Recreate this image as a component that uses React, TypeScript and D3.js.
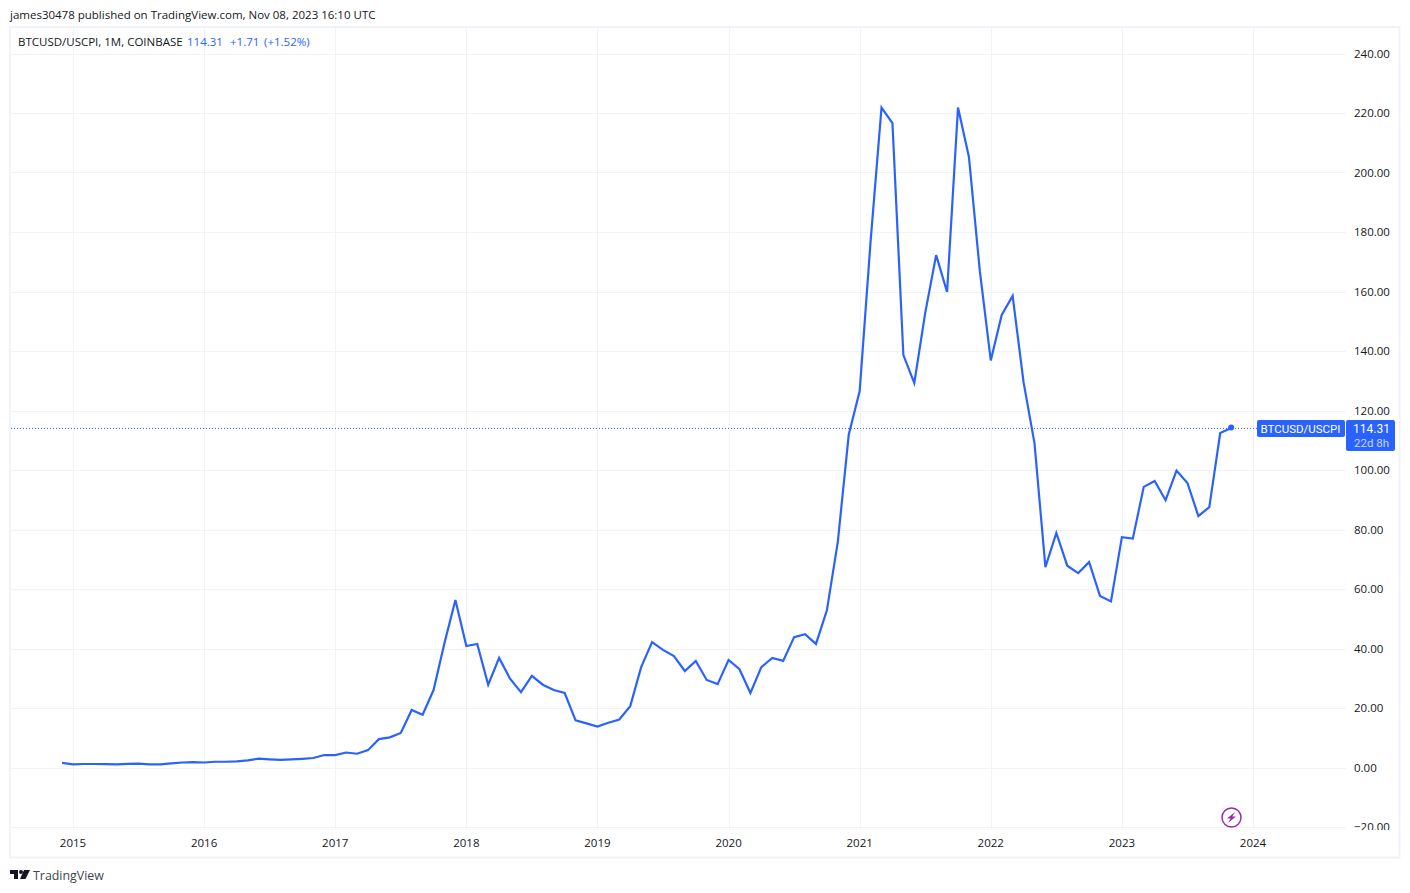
import React, { useEffect, useRef } from "react";
import * as d3 from "d3";

// monthly closes, Dec 2014 .. Nov 2023
const startYear = 2014;
const startMonth = 11;
const closes = [
  1.7,
  1.23, 1.35, 1.35, 1.3, 1.25, 1.4, 1.45, 1.25, 1.25, 1.55, 1.85, 2.0,
  1.85, 2.1, 2.1, 2.2, 2.55, 3.15, 2.9, 2.7, 2.9, 3.1, 3.35, 4.35,
  4.35, 5.2, 4.8, 6.0, 9.7, 10.3, 11.8, 19.5, 17.9, 26.2, 42, 56.5,
  41, 41.7, 28, 37, 30, 25.5, 31, 28, 26.2, 25.2, 16, 15,
  13.9, 15.2, 16.3, 20.8, 33.9, 42.3, 39.7, 37.6, 32.6, 36, 29.6, 28.2,
  36.3, 33.2, 25.2, 33.9, 37, 36, 44, 45, 41.7, 53, 76, 112,
  126.7, 177, 222, 216.8, 138.8, 129.4, 153, 172.4, 160, 222, 205.4, 167,
  137, 152.3, 158.7, 129.7, 109.2, 67.5, 79, 68, 65.5, 69.2, 57.8, 56,
  77.6, 77.1, 94.5, 96.5, 90, 100, 95.8, 84.7, 87.7, 112.6, 114.31,
];
const years = [2015, 2016, 2017, 2018, 2019, 2020, 2021, 2022, 2023, 2024];
const priceTicks = [-20, 0, 20, 40, 60, 80, 100, 120, 140, 160, 180, 200, 220, 240];
const lastPrice = 114.31;

const font = "'Open Sans', 'Noto Sans', sans-serif";
const pillFont = "Roboto, sans-serif";
const blue = "#2962ff";
const grid = "#f0f3fa";
const textColor = "#131722";

const App: React.FC = () => {
  const ref = useRef<SVGSVGElement>(null);

  useEffect(() => {
    if (!ref.current) return;
    const svg = d3.select(ref.current);
    svg.selectAll("*").remove();

    const monthIndex = (year: number, month: number) =>
      (year - startYear) * 12 + (month - startMonth);

    const x = d3
      .scaleLinear()
      .domain([monthIndex(2015, 0), monthIndex(2024, 0)])
      .range([73, 1253]);
    const y = d3.scaleLinear().domain([0, 240]).range([768, 54]);

    svg.append("rect").attr("width", 1410).attr("height", 893).attr("fill", "#fff");

    // outer frame
    svg
      .append("rect")
      .attr("x", 10)
      .attr("y", 27)
      .attr("width", 1389.5)
      .attr("height", 830.5)
      .attr("fill", "none")
      .attr("stroke", grid)
      .attr("stroke-width", 2);

    svg
      .append("defs")
      .append("clipPath")
      .attr("id", "pane")
      .append("rect")
      .attr("x", 11)
      .attr("y", 28)
      .attr("width", 1387)
      .attr("height", 802);

    const gridG = svg.append("g").attr("stroke", grid).attr("stroke-width", 1);
    gridG
      .selectAll("line.h")
      .data(priceTicks)
      .join("line")
      .attr("class", "h")
      .attr("x1", 11)
      .attr("x2", 1346)
      .attr("y1", (d) => Math.floor(y(d)) + 0.5)
      .attr("y2", (d) => Math.floor(y(d)) + 0.5);
    gridG
      .selectAll("line.v")
      .data(years)
      .join("line")
      .attr("class", "v")
      .attr("y1", 28)
      .attr("y2", 829.5)
      .attr("x1", (d) => Math.round(x(monthIndex(d, 0))) + 0.5)
      .attr("x2", (d) => Math.round(x(monthIndex(d, 0))) + 0.5);

    // price axis
    const yAxis = d3
      .axisRight(y)
      .tickValues(priceTicks)
      .tickSize(0)
      .tickPadding(0)
      .tickFormat((d) => d3.format(".2f")(d as number).replace("-", "\u2212"));
    const yG = svg
      .append("g")
      .attr("clip-path", "url(#pane)")
      .append("g")
      .attr("transform", "translate(1354,-0.7)")
      .call(yAxis);
    yG.select(".domain").remove();
    yG.selectAll("text")
      .attr("font-family", font)
      .attr("font-size", 11.5)
      .attr("fill", textColor)
      .attr("dy", "0.36em");

    // time axis
    const xAxis = d3
      .axisBottom(x)
      .tickValues(years.map((d) => monthIndex(d, 0)))
      .tickSize(0)
      .tickPadding(0)
      .tickFormat((_, i) => String(years[i]));
    const xG = svg.append("g").attr("transform", "translate(-0.5,839)").call(xAxis);
    xG.select(".domain").remove();
    xG.selectAll("text")
      .attr("font-family", font)
      .attr("font-size", 11.5)
      .attr("fill", textColor);

    // last price line
    svg
      .append("line")
      .attr("x1", 11)
      .attr("x2", 1257)
      .attr("y1", y(lastPrice) + 0.5)
      .attr("y2", y(lastPrice) + 0.5)
      .attr("stroke", blue)
      .attr("stroke-width", 1)
      .attr("stroke-dasharray", "1 2");

    const line = d3
      .line<number>()
      .x((_, i) => x(i))
      .y((d) => y(d));
    svg
      .append("path")
      .datum(closes)
      .attr("fill", "none")
      .attr("stroke", blue)
      .attr("stroke-width", 2.2)
      .attr("stroke-linejoin", "miter")
      .attr("d", line);
    svg
      .append("circle")
      .attr("cx", x(closes.length - 1))
      .attr("cy", y(lastPrice) - 0.5)
      .attr("r", 3)
      .attr("fill", blue);

    // labels on the price axis
    svg
      .append("rect")
      .attr("x", 1257)
      .attr("y", 420)
      .attr("width", 88)
      .attr("height", 17)
      .attr("rx", 2)
      .attr("fill", blue);
    svg
      .append("rect")
      .attr("x", 1346)
      .attr("y", 420)
      .attr("width", 49)
      .attr("height", 31)
      .attr("rx", 2)
      .attr("fill", blue);

    const label = (
      tx: number,
      ty: number,
      s: string,
      fill: string,
      anchor = "start",
      size = 11.5,
      family = font
    ) =>
      svg
        .append("text")
        .attr("x", tx)
        .attr("y", ty)
        .attr("text-anchor", anchor)
        .attr("font-family", family)
        .attr("font-size", size)
        .attr("fill", fill)
        .text(s);

    label(1300.5, 433, "BTCUSD/USCPI", "#fff", "middle", 11.5, pillFont);
    label(1371.5, 432.5, d3.format(".2f")(lastPrice), "#fff", "middle", 12, pillFont);
    label(1371.5, 447, "22d 8h", "#c9d7ff", "middle", 11.5, pillFont);

    label(10, 18.5, "james30478 published on TradingView.com, Nov 08, 2023 16:10 UTC", textColor);
    label(18, 45.5, "BTCUSD/USCPI, 1M, COINBASE", textColor);
    label(187, 45.5, "114.31", blue);
    label(230, 45.5, "+1.71", blue);
    label(264, 45.5, "(+1.52%)", blue);

    // TradingView logo
    const logo = svg.append("g").attr("transform", "translate(10,870)").attr("fill", "#131722");
    logo.append("path").attr("d", "M0 0H8V9H4V4H0Z");
    logo.append("circle").attr("cx", 11).attr("cy", 2).attr("r", 2);
    logo.append("path").attr("d", "M14 0H20L15.5 9H10Z");
    label(33, 880, "TradingView", "#434651", "start", 12.4);

    // lightning badge
    const badge = svg.append("g").attr("transform", "translate(1231.5,817.5)");
    badge
      .append("circle")
      .attr("r", 9.5)
      .attr("fill", "#fff")
      .attr("stroke", "#9c27b0")
      .attr("stroke-width", 1.5);
    badge
      .append("path")
      .attr("d", "M3.5 -5.5L-4.5 1H-0.8L-3.5 5.5L4.5 -1H0.8Z")
      .attr("fill", "#9c27b0");
  }, []);

  return (
    <svg
      ref={ref}
      width={1410}
      height={893}
      style={{ position: "absolute", left: 0, top: 0, display: "block" }}
    />
  );
};

export default App;
